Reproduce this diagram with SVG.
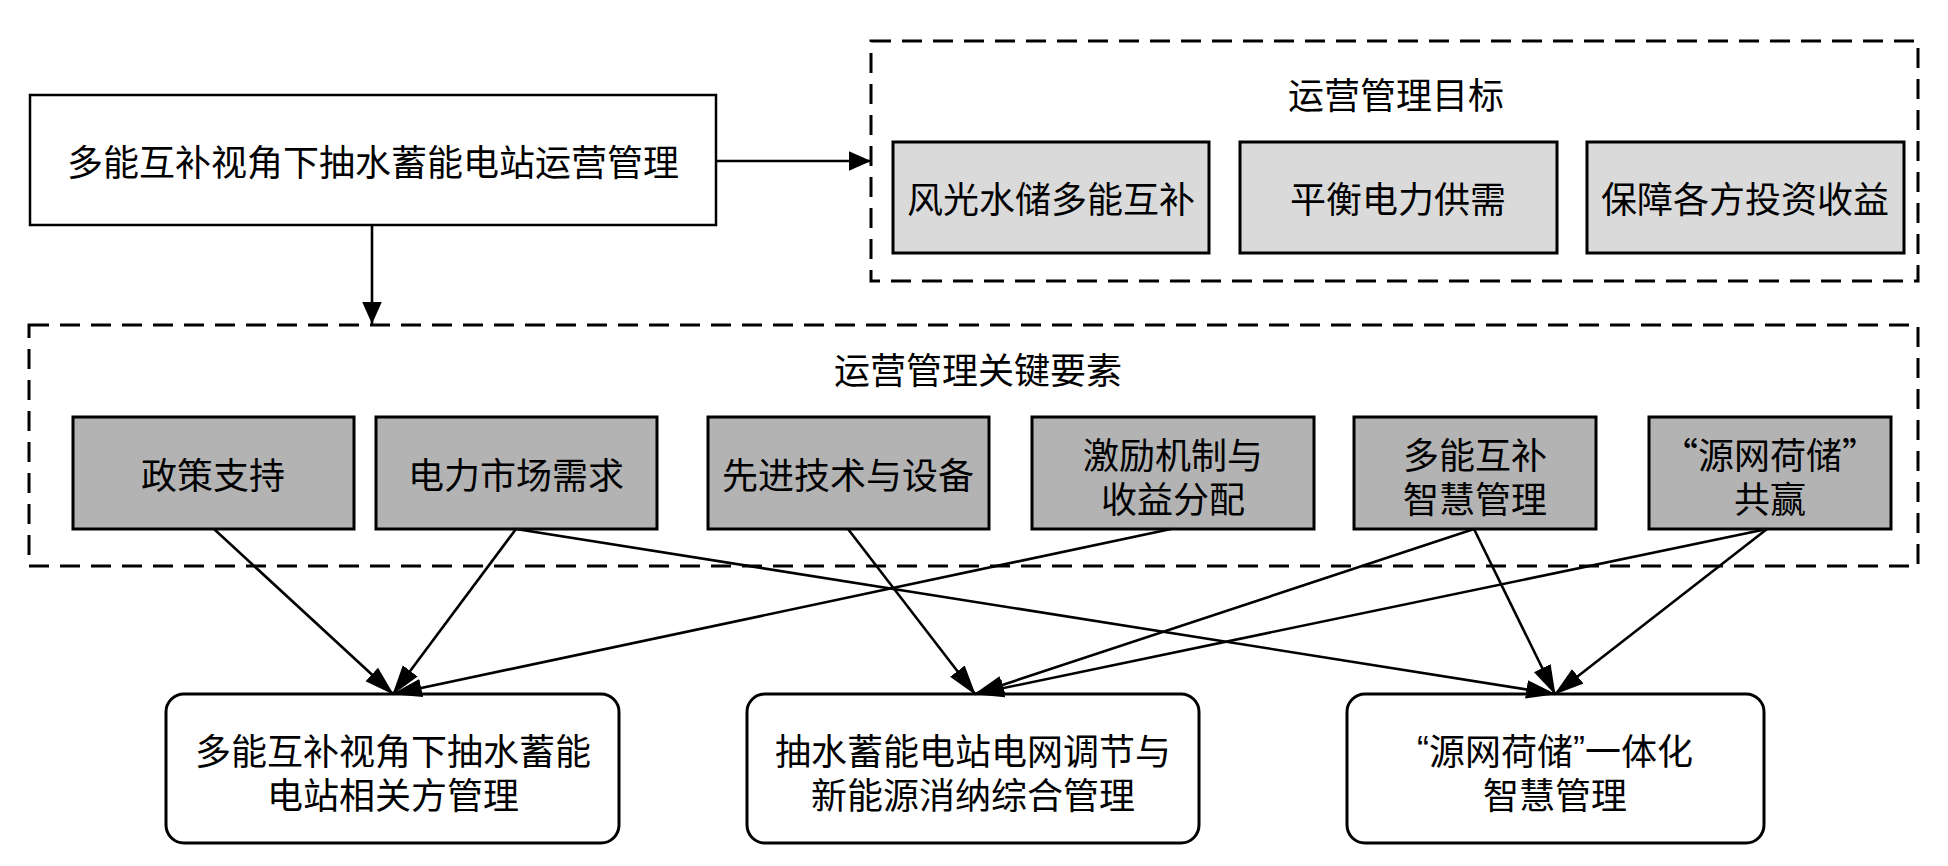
<svg xmlns="http://www.w3.org/2000/svg" width="1948" height="866" viewBox="0 0 1948 866">
<style>
text{font-family:"Noto Sans CJK SC","Liberation Sans",sans-serif;font-size:36px;fill:#000;text-anchor:middle;dominant-baseline:central}
.q{font-family:"Liberation Sans","Noto Sans CJK SC",sans-serif}
.frame{fill:none;stroke:#000;stroke-width:3;stroke-dasharray:20 11}
.light{fill:#dadada;stroke:#000;stroke-width:3}
.dark{fill:#b3b3b3;stroke:#000;stroke-width:3}
.plain{fill:#fff;stroke:#000;stroke-width:2.5}
.round{fill:#fff;stroke:#000;stroke-width:3}
.conn{fill:none;stroke:#000;stroke-width:2.6}
</style>
<defs>
<marker id="ah" markerUnits="userSpaceOnUse" markerWidth="30" markerHeight="20" viewBox="0 0 26 16" refX="25" refY="8" orient="auto">
<path d="M0,0 L26,8 L0,16 Z" fill="#000"/>
</marker>
<marker id="ahs" markerUnits="userSpaceOnUse" markerWidth="22" markerHeight="20" viewBox="0 0 18 16" refX="18" refY="8" orient="auto">
<path d="M0,0 L18,8 L0,16 Z" fill="#000"/>
</marker>
</defs>
<rect width="1948" height="866" fill="#fff"/>

<g id="main">
<rect class="plain" x="30" y="95" width="686" height="130"/>
<text x="373" y="160">多能互补视角下抽水蓄能电站运营管理</text>
</g>

<g id="goals">
<rect class="frame" x="871" y="41" width="1047" height="240"/>
<text x="1396" y="93">运营管理目标</text>
</g>
<g id="goal1"><rect class="light" x="893" y="142" width="316" height="111"/><text x="1051" y="197">风光水储多能互补</text></g>
<g id="goal2"><rect class="light" x="1240" y="142" width="317" height="111"/><text x="1398" y="197">平衡电力供需</text></g>
<g id="goal3"><rect class="light" x="1587" y="142" width="317" height="111"/><text x="1745" y="197">保障各方投资收益</text></g>

<g id="factors">
<rect class="frame" x="29" y="325" width="1889" height="241"/>
<text x="978" y="368">运营管理关键要素</text>
</g>
<g id="f1"><rect class="dark" x="73" y="417" width="281" height="112"/><text x="213" y="473">政策支持</text></g>
<g id="f2"><rect class="dark" x="376" y="417" width="281" height="112"/><text x="516" y="473">电力市场需求</text></g>
<g id="f3"><rect class="dark" x="708" y="417" width="281" height="112"/><text x="848" y="473">先进技术与设备</text></g>
<g id="f4"><rect class="dark" x="1032" y="417" width="282" height="112"/><text><tspan x="1173" y="453">激励机制与</tspan><tspan x="1173" y="497">收益分配</tspan></text></g>
<g id="f5"><rect class="dark" x="1354" y="417" width="242" height="112"/><text><tspan x="1475" y="453">多能互补</tspan><tspan x="1475" y="497">智慧管理</tspan></text></g>
<g id="f6"><rect class="dark" x="1649" y="417" width="242" height="112"/><text><tspan x="1770" y="453">“源网荷储”</tspan><tspan x="1770" y="497">共赢</tspan></text></g>

<g id="m1"><rect class="round" x="166" y="694" width="453" height="149" rx="18"/><text><tspan x="393" y="749">多能互补视角下抽水蓄能</tspan><tspan x="393" y="793">电站相关方管理</tspan></text></g>
<g id="m2"><rect class="round" x="747" y="694" width="452" height="149" rx="18"/><text><tspan x="973" y="749">抽水蓄能电站电网调节与</tspan><tspan x="973" y="793">新能源消纳综合管理</tspan></text></g>
<g id="m3"><rect class="round" x="1347" y="694" width="417" height="149" rx="18"/><text><tspan x="1555" y="749"><tspan class="q">“</tspan>源网荷储<tspan class="q">”</tspan>一体化</tspan><tspan x="1555" y="793">智慧管理</tspan></text></g>

<g id="connectors">
<line class="conn" x1="716" y1="161" x2="871" y2="161" marker-end="url(#ahs)"/>
<line class="conn" x1="372" y1="225" x2="372" y2="324" marker-end="url(#ahs)"/>
<line class="conn" x1="214" y1="529" x2="393" y2="694" marker-end="url(#ah)"/>
<line class="conn" x1="516" y1="529" x2="393" y2="694" marker-end="url(#ah)"/>
<line class="conn" x1="516" y1="529" x2="1555" y2="694" marker-end="url(#ah)"/>
<line class="conn" x1="848" y1="529" x2="975" y2="694" marker-end="url(#ah)"/>
<line class="conn" x1="1171" y1="529" x2="393" y2="694" marker-end="url(#ah)"/>
<line class="conn" x1="1474" y1="529" x2="975" y2="694" marker-end="url(#ah)"/>
<line class="conn" x1="1474" y1="529" x2="1555" y2="694" marker-end="url(#ah)"/>
<line class="conn" x1="1767" y1="529" x2="975" y2="694" marker-end="url(#ah)"/>
<line class="conn" x1="1767" y1="529" x2="1555" y2="694" marker-end="url(#ah)"/>
</g>
</svg>
